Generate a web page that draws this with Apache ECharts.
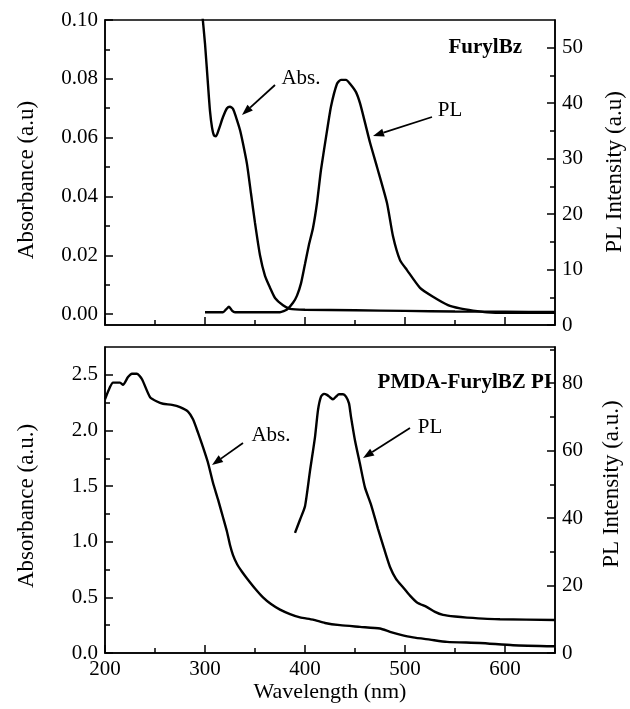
<!DOCTYPE html>
<html>
<head>
<meta charset="utf-8">
<script src="https://cdn.jsdelivr.net/npm/echarts@6/dist/echarts.min.js"></script>
<style>html,body{margin:0;padding:0;background:#fff}#c{width:630px;height:709px}</style>
</head>
<body>
<div id="c"></div>
<script>
// ---- data ----
const wavelengthTicks = [200, 300, 400, 500, 600];
const wavelengthMinorTicks = [250, 350, 450, 550, 650];

const topAbsTicks = [0, 0.02, 0.04, 0.06, 0.08, 0.10];
const topAbsMinor = [0.01, 0.03, 0.05, 0.07, 0.09];
const topPlTicks = [0, 10, 20, 30, 40, 50];
const topPlMinor = [5, 15, 25, 35, 45];
const botAbsTicks = [0, 0.5, 1.0, 1.5, 2.0, 2.5];
const botAbsMinor = [0.25, 0.75, 1.25, 1.75, 2.25];
const botPlTicks = [0, 20, 40, 60, 80];
const botPlMinor = [10, 30, 50, 70, 90];

// FurylBz (top)
const topAbsWl = [297,300,303,305,307,309,311,314,318,322,325,328,331,335,338,342,346,350,355,360,365,370,378,385,400,450,500,550,600,650];
const topAbs   = [0.103,0.092,0.078,0.069,0.0635,0.0607,0.0605,0.063,0.067,0.070,0.0705,0.0698,0.067,0.0626,0.058,0.051,0.041,0.031,0.020,0.013,0.009,0.0055,0.003,0.0018,0.0015,0.0013,0.0011,0.0009,0.0008,0.0007];
const topPlWl  = [300,318,321,324,327,330,375,382,388,392,396,400,404,408,412,416,422,426,432,436,441,445,451,455,460,465,472,482,488,495,502,515,528,543,555,568,582,600,650];
const topPl    = [2.3,2.3,2.8,3.3,2.6,2.3,2.3,2.8,4.0,5.3,7.5,11,14.5,17.5,22,28,35,39.4,43.5,44.2,44.2,43.5,42,40,36.5,32.9,28.5,22,16,11.7,9.9,6.7,5.1,3.6,3.0,2.6,2.3,2.2,2.2];

// PMDA-FurylBZ PI (bottom)
const botAbsWl = [200,205,208,215,218,223,227,232,237,245,252,258,267,275,283,288,293,298,303,308,313,318,322,325,328,332,337,342,350,358,366,375,385,395,408,420,435,455,475,485,495,508,525,542,575,608,650];
const botAbs   = [2.28,2.39,2.43,2.43,2.41,2.48,2.51,2.51,2.46,2.30,2.26,2.24,2.23,2.21,2.17,2.10,1.98,1.85,1.71,1.53,1.38,1.22,1.09,0.97,0.88,0.80,0.73,0.67,0.58,0.50,0.44,0.39,0.35,0.32,0.30,0.27,0.25,0.235,0.22,0.19,0.165,0.14,0.12,0.10,0.09,0.07,0.06];
const botPlWl  = [390,395,400,405,410,413,416,419,422,425,428,431,434,438,441,444,446,450,455,460,466,473,479,485,491,498,505,512,522,530,538,550,562,595,650];
const botPl    = [35.6,39.5,43.5,54,64,72,76,76.8,76.5,75.8,75.2,76,76.7,76.7,76,74,70,63,56,49,44,36.8,31,25.5,22,19.5,17,15,13.6,12.2,11.3,10.8,10.5,10,9.8];

// ---- chart ----
const FONT = 'Liberation Serif, Times New Roman, serif';
const pair = (xs, ys) => xs.map((x, i) => [x, ys[i]]);

function xAx(gridIndex, major, labels) {
  return {
    type: 'value', gridIndex, min: 200, max: 650, position: 'bottom',
    axisLine: { show: major, onZero: false, lineStyle: { color: '#000', width: 1.5 } },
    axisTick: { show: true, inside: true, length: major ? 8 : 5, lineStyle: { color: '#000', width: 1.5 },
      customValues: major ? wavelengthTicks : wavelengthMinorTicks },
    axisLabel: { show: major && labels, customValues: wavelengthTicks, color: '#000', fontFamily: FONT, fontSize: 21, margin: 6 },
    splitLine: { show: false }
  };
}
function yAx(gridIndex, pos, min, max, ticks, minor, major, fmt) {
  return {
    type: 'value', gridIndex, position: pos, min, max,
    axisLine: { show: major, onZero: false, lineStyle: { color: '#000', width: 1.5 } },
    axisTick: { show: true, inside: true, length: major ? 8 : 5, lineStyle: { color: '#000', width: 1.5 },
      customValues: major ? ticks : minor },
    axisLabel: { show: major, customValues: ticks, color: '#000', fontFamily: FONT, fontSize: 21, margin: 7,
      formatter: fmt },
    splitLine: { show: false }
  };
}
function arrow(x1, y1, x2, y2) {
  const a = Math.atan2(y2 - y1, x2 - x1), L = 11, W = 4;
  const bx = x2 - L * Math.cos(a), by = y2 - L * Math.sin(a);
  const px = -Math.sin(a) * W, py = Math.cos(a) * W;
  return [
    { type: 'line', shape: { x1, y1, x2: bx, y2: by }, style: { stroke: '#000', lineWidth: 1.8 } },
    { type: 'polygon', shape: { points: [[x2, y2], [bx + px, by + py], [bx - px, by - py]] }, style: { fill: '#000' } }
  ];
}
function txt(x, y, text, opts = {}) {
  return { type: 'text', x, y, rotation: opts.rot || 0,
    style: { text, fill: '#000', font: (opts.bold ? 'bold ' : '') + (opts.size || 21) + 'px ' + FONT,
      textAlign: opts.align || 'center', textVerticalAlign: 'middle' } };
}

const f2 = v => v.toFixed(2), f1 = v => v.toFixed(1), f0 = v => String(Math.round(v));
const line = (x, y, data) => ({ type: 'line', xAxisIndex: x, yAxisIndex: y, data, showSymbol: false, smooth: 0.2,
  lineStyle: { color: '#000', width: 2.4 }, clip: true, animation: false });

const option = {
  animation: false,
  backgroundColor: '#fff',
  grid: [
    { left: 105, top: 20, width: 450, height: 305, show: true, borderColor: '#000', borderWidth: 1.5 },
    { left: 105, top: 347, width: 450, height: 306, show: true, borderColor: '#000', borderWidth: 1.5 }
  ],
  xAxis: [xAx(0, true, false), xAx(0, false, false), xAx(1, true, true), xAx(1, false, true)],
  yAxis: [
    yAx(0, 'left', -0.0037, 0.1, topAbsTicks, topAbsMinor, true, f2),
    yAx(0, 'left', -0.0037, 0.1, topAbsTicks, topAbsMinor, false, f2),
    yAx(0, 'right', 0, 55, topPlTicks, topPlMinor, true, f0),
    yAx(0, 'right', 0, 55, topPlTicks, topPlMinor, false, f0),
    yAx(1, 'left', 0, 2.75, botAbsTicks, botAbsMinor, true, f1),
    yAx(1, 'left', 0, 2.75, botAbsTicks, botAbsMinor, false, f1),
    yAx(1, 'right', 0, 90.7, botPlTicks, botPlMinor, true, f0),
    yAx(1, 'right', 0, 90.7, botPlTicks, botPlMinor, false, f0)
  ],
  series: [
    line(0, 0, pair(topAbsWl, topAbs)),
    line(0, 2, pair(topPlWl, topPl)),
    line(2, 4, pair(botAbsWl, botAbs)),
    line(2, 6, pair(botPlWl, botPl))
  ],
  graphic: [
    txt(27, 180, 'Absorbance (a.u)', { rot: Math.PI / 2, size: 23 }),
    txt(615, 172, 'PL Intensity (a.u)', { rot: Math.PI / 2, size: 23 }),
    txt(27, 506, 'Absorbance (a.u.)', { rot: Math.PI / 2, size: 23 }),
    txt(612, 484, 'PL Intensity (a.u.)', { rot: Math.PI / 2, size: 23 }),
    txt(330, 692, 'Wavelength (nm)', { size: 22 }),
    txt(522, 48, 'FurylBz', { bold: true, align: 'right' }),
    txt(552, 383, 'PMDA-FurylBZ PI', { bold: true, align: 'right' }),
    txt(301, 78, 'Abs.'),
    txt(450, 110, 'PL'),
    txt(271, 435, 'Abs.'),
    txt(430, 427, 'PL'),
    ...arrow(275, 85, 242, 115),
    ...arrow(432, 117, 373, 136),
    ...arrow(243, 443, 212, 465),
    ...arrow(410, 428, 363, 458)
  ]
};
echarts.init(document.getElementById('c'), null, { renderer: 'canvas' }).setOption(option);
</script>
</body>
</html>
